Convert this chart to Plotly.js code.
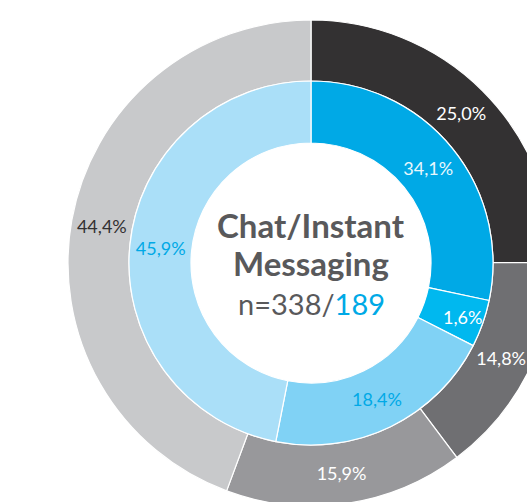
<!DOCTYPE html>
<html>
<head>
<meta charset="utf-8">
<script src="https://cdn.plot.ly/plotly-3.0.1.min.js"></script>
<style>
  html, body { margin: 0; padding: 0; overflow: hidden; background: #fff; }
  #chart { width: 622px; height: 526px; }
</style>
</head>
<body>
<div id="chart"></div>
<script>
// outer ring (n=338) and inner ring (n=189), clockwise from 12 o'clock
const sliceNames = ["A", "B", "C", "D"];
const outerValues = [25.0, 14.8, 15.9, 44.4];
const outerLabels = ["25,0%", "14,8%", "15,9%", "44,4%"];
// inner ring: printed percentages, and the slice sizes as the picture draws them
// (the small slice is drawn wider than its share)
const innerLabels = ["34,1%", "1,6%", "18,4%", "45,9%"];
const innerDrawn = [28.3, 4.2, 20.6, 46.9];

const outerColors = ["#333132", "#6f6f72", "#98989b", "#c8c9cb"];
const innerColors = ["#00a9e6", "#00b8ef", "#80d2f5", "#aadff8"];
const outerText = ["#ffffff", "#ffffff", "#ffffff", "#333132"];
const innerText = ["#e8f7fd", "#ffffff", "#00a9e6", "#00a9e6"];

const font = "Lato, 'Open Sans', sans-serif";

const outer = {
  type: "pie",
  labels: sliceNames,
  values: outerValues,
  text: outerLabels,
  sort: false,
  direction: "clockwise",
  rotation: 0,
  hole: 182 / 243,
  domain: { x: [0, 1], y: [0, 1] },
  marker: { colors: outerColors, line: { color: "#ffffff", width: 1.2 } },
  textinfo: "text",
  textposition: "inside",
  insidetextorientation: "horizontal",
  textfont: { family: font, size: 18, color: outerText },
  hoverinfo: "none",
  showlegend: false
};

const inner = {
  type: "pie",
  labels: sliceNames,
  values: innerDrawn,
  text: innerLabels,
  sort: false,
  direction: "clockwise",
  rotation: 0,
  hole: 120 / 182,
  domain: { x: [0.1255, 0.8745], y: [0.1255, 0.8745] },
  marker: { colors: innerColors, line: { color: "#ffffff", width: 1.2 } },
  textinfo: "text",
  textposition: "inside",
  insidetextorientation: "horizontal",
  textfont: { family: font, size: 18, color: innerText },
  hoverinfo: "none",
  showlegend: false
};

const centerGray = "#59595b";

const layout = {
  width: 622,
  height: 526,
  margin: { l: 68, r: 68, t: 20, b: 20 },
  paper_bgcolor: "#ffffff",
  uniformtext: { minsize: 18, mode: "show" },
  annotations: [
    {
      x: 0.5, y: 0.578, xref: "paper", yref: "paper",
      xanchor: "center", yanchor: "middle", showarrow: false,
      text: "<b>Chat/Instant</b>",
      font: { family: font, size: 33, color: centerGray }
    },
    {
      x: 0.5, y: 0.5, xref: "paper", yref: "paper",
      xanchor: "center", yanchor: "middle", showarrow: false,
      text: "<b>Messaging</b>",
      font: { family: font, size: 33, color: centerGray }
    },
    {
      x: 0.5, y: 0.416, xref: "paper", yref: "paper",
      xanchor: "center", yanchor: "middle", showarrow: false,
      text: "n=338/<span style='color:#00a9e6'>189</span>",
      font: { family: font, size: 29, color: centerGray }
    }
  ]
};

Plotly.newPlot("chart", [outer, inner], layout, { displayModeBar: false, staticPlot: true });
</script>
</body>
</html>
